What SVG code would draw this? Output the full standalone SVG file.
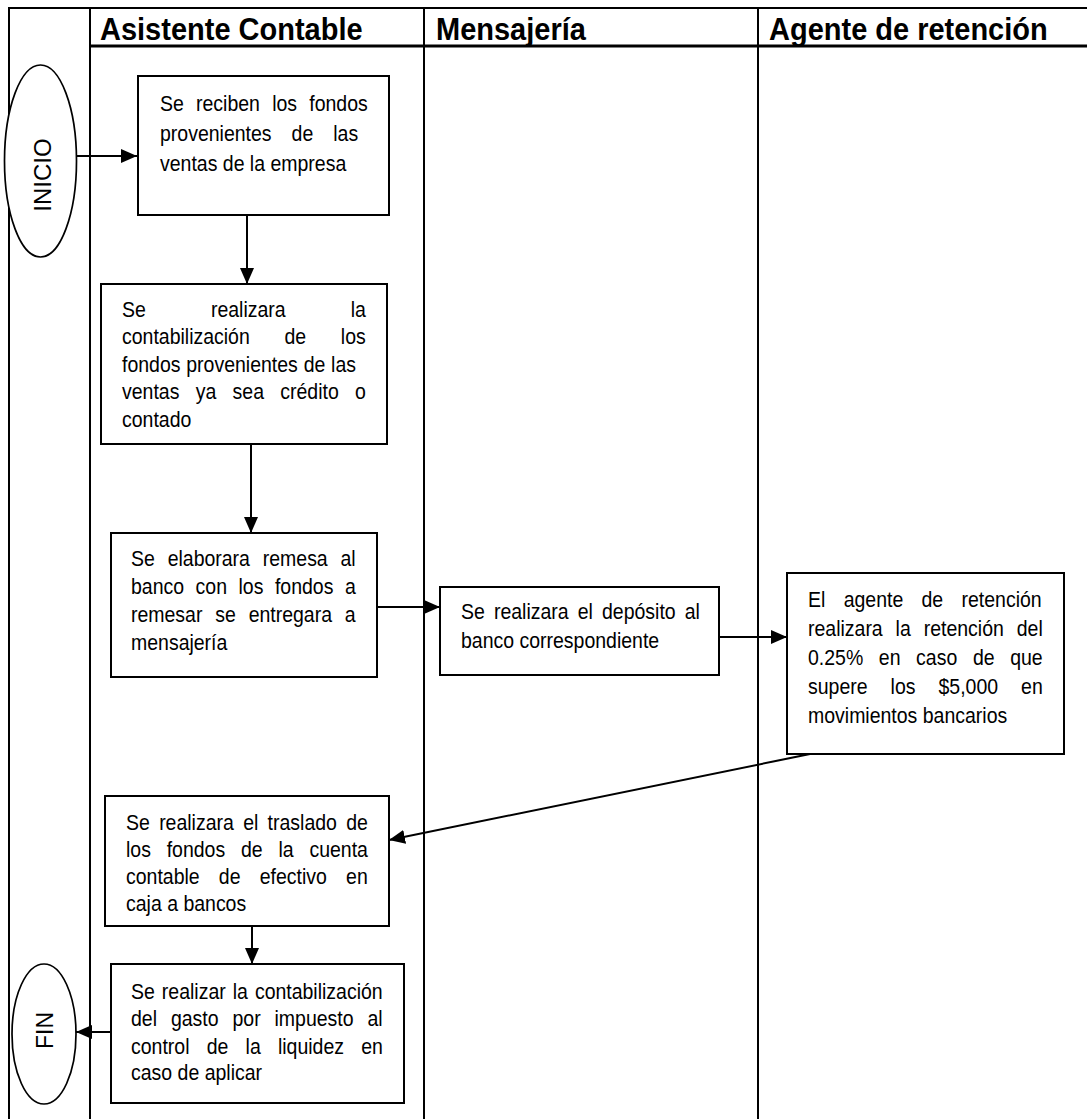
<svg xmlns="http://www.w3.org/2000/svg" width="1087" height="1119" viewBox="0 0 1087 1119">
<defs>
<style>
.ln{stroke:#000;stroke-width:2;fill:none}
.hd{font-family:"Liberation Sans",Arial,sans-serif;font-size:29px;font-weight:bold;fill:#000}
.box{fill:#fff;stroke:#000;stroke-width:2}
.ell{fill:#fff;stroke:#000;stroke-width:1.7}
.t{font-family:"Liberation Sans",Arial,sans-serif;font-size:19.5px;fill:#000}
.big{font-family:"Liberation Sans",Arial,sans-serif;fill:#000;text-anchor:middle}
.con{stroke:#000;stroke-width:2;fill:none;marker-end:url(#ah)}
</style>
<marker id="ah" viewBox="0 0 16 14" refX="16" refY="7" markerWidth="16" markerHeight="14" markerUnits="userSpaceOnUse" orient="auto">
<path d="M0,0 L16,7 L0,14 z" fill="#000"/>
</marker>
</defs>
<rect width="1087" height="1119" fill="#fff"/>
<g id="lanes">
<line class="ln" x1="9" y1="8" x2="1087" y2="8"/>
<line class="ln" x1="90" y1="46" x2="1087" y2="46" style="stroke-width:3"/>
<line class="ln" x1="9" y1="7" x2="9" y2="1119"/>
<line class="ln" x1="90" y1="7" x2="90" y2="1119"/>
<line class="ln" x1="424" y1="7" x2="424" y2="1119"/>
<line class="ln" x1="758" y1="7" x2="758" y2="1119"/>
<text class="hd" x="100" y="0" transform="translate(0,40) scale(1,1.09)">Asistente Contable</text>
<text class="hd" x="436" y="0" transform="translate(0,40) scale(1,1.09)">Mensajería</text>
<text class="hd" x="769" y="0" transform="translate(0,40) scale(1,1.09)">Agente de retención</text>
</g>
<g id="connectors">
<line class="con" x1="76" y1="156" x2="137" y2="156"/>
<line class="con" x1="247" y1="215" x2="247" y2="284"/>
<line class="con" x1="251" y1="444" x2="251" y2="533"/>
<line class="con" x1="377" y1="607" x2="440" y2="607"/>
<line class="con" x1="719" y1="637" x2="787" y2="637"/>
<line class="con" x1="810" y1="754" x2="389" y2="840"/>
<line class="con" x1="252" y1="926" x2="252" y2="964"/>
<line class="con" x1="111" y1="1032" x2="76" y2="1032"/>
</g>
<g id="inicio">
<ellipse class="ell" cx="40.5" cy="161" rx="36" ry="96"/>
<text class="big" transform="translate(51,175) rotate(-90)" x="0" y="0" style="font-size:24px">INICIO</text>
</g>
<g id="n1">
<rect class="box" x="138" y="76" width="251" height="139"/>
<text class="t" x="160" y="0" transform="translate(0,110.5) scale(1,1.09)" style="word-spacing:6.8px">Se reciben los fondos</text>
<text class="t" x="160" y="0" transform="translate(0,140.5) scale(1,1.09)" style="word-spacing:14.6px">provenientes de las</text>
<text class="t" x="160" y="0" transform="translate(0,170.5) scale(1,1.09)">ventas de la empresa</text>
</g>
<g id="n2">
<rect class="box" x="101" y="284" width="286" height="160"/>
<text class="t" x="122" y="0" transform="translate(0,316.5) scale(1,1.09)" style="word-spacing:59.7px">Se realizara la</text>
<text class="t" x="122" y="0" transform="translate(0,344) scale(1,1.09)" style="word-spacing:29.3px">contabilización de los</text>
<text class="t" x="122" y="0" transform="translate(0,371.5) scale(1,1.09)" style="word-spacing:0.4px">fondos provenientes de las</text>
<text class="t" x="122" y="0" transform="translate(0,399) scale(1,1.09)" style="word-spacing:10.9px">ventas ya sea crédito o</text>
<text class="t" x="122" y="0" transform="translate(0,426.5) scale(1,1.09)">contado</text>
</g>
<g id="n3">
<rect class="box" x="111" y="533" width="266" height="144"/>
<text class="t" x="131" y="0" transform="translate(0,566) scale(1,1.09)" style="word-spacing:7.4px">Se elaborara remesa al</text>
<text class="t" x="131" y="0" transform="translate(0,594) scale(1,1.09)" style="word-spacing:6.1px">banco con los fondos a</text>
<text class="t" x="131" y="0" transform="translate(0,621.5) scale(1,1.09)" style="word-spacing:7.4px">remesar se entregara a</text>
<text class="t" x="131" y="0" transform="translate(0,649.5) scale(1,1.09)">mensajería</text>
</g>
<g id="n4">
<rect class="box" x="440" y="587" width="279" height="88"/>
<text class="t" x="461" y="0" transform="translate(0,618.5) scale(1,1.09)" style="word-spacing:3.7px">Se realizara el depósito al</text>
<text class="t" x="461" y="0" transform="translate(0,647.5) scale(1,1.09)">banco correspondiente</text>
</g>
<g id="n5">
<rect class="box" x="787" y="573" width="277" height="181"/>
<text class="t" x="808" y="0" transform="translate(0,606.5) scale(1,1.09)" style="word-spacing:12.9px">El agente de retención</text>
<text class="t" x="808" y="0" transform="translate(0,635.5) scale(1,1.09)" style="word-spacing:7.5px">realizara la retención del</text>
<text class="t" x="808" y="0" transform="translate(0,665) scale(1,1.09)" style="word-spacing:10.2px">0.25% en caso de que</text>
<text class="t" x="808" y="0" transform="translate(0,694) scale(1,1.09)" style="word-spacing:17.6px">supere los $5,000 en</text>
<text class="t" x="808" y="0" transform="translate(0,723) scale(1,1.09)">movimientos bancarios</text>
</g>
<g id="n6">
<rect class="box" x="105" y="796" width="284" height="130"/>
<text class="t" x="126" y="0" transform="translate(0,829.5) scale(1,1.09)" style="word-spacing:3.9px">Se realizara el traslado de</text>
<text class="t" x="126" y="0" transform="translate(0,856.5) scale(1,1.09)" style="word-spacing:10.4px">los fondos de la cuenta</text>
<text class="t" x="126" y="0" transform="translate(0,884) scale(1,1.09)" style="word-spacing:13.8px">contable de efectivo en</text>
<text class="t" x="126" y="0" transform="translate(0,910.5) scale(1,1.09)">caja a bancos</text>
</g>
<g id="n7">
<rect class="box" x="111" y="964" width="293" height="139"/>
<text class="t" x="131" y="0" transform="translate(0,998.5) scale(1,1.09)" style="word-spacing:1.6px">Se realizar la contabilización</text>
<text class="t" x="131" y="0" transform="translate(0,1026) scale(1,1.09)" style="word-spacing:8.5px">del gasto por impuesto al</text>
<text class="t" x="131" y="0" transform="translate(0,1053.5) scale(1,1.09)" style="word-spacing:11.8px">control de la liquidez en</text>
<text class="t" x="131" y="0" transform="translate(0,1080) scale(1,1.09)">caso de aplicar</text>
</g>
<g id="fin">
<ellipse class="ell" cx="44" cy="1034" rx="32" ry="70"/>
<text class="big" transform="translate(53,1030.5) rotate(-90)" x="0" y="0" style="font-size:23px">FIN</text>
</g>
</svg>
